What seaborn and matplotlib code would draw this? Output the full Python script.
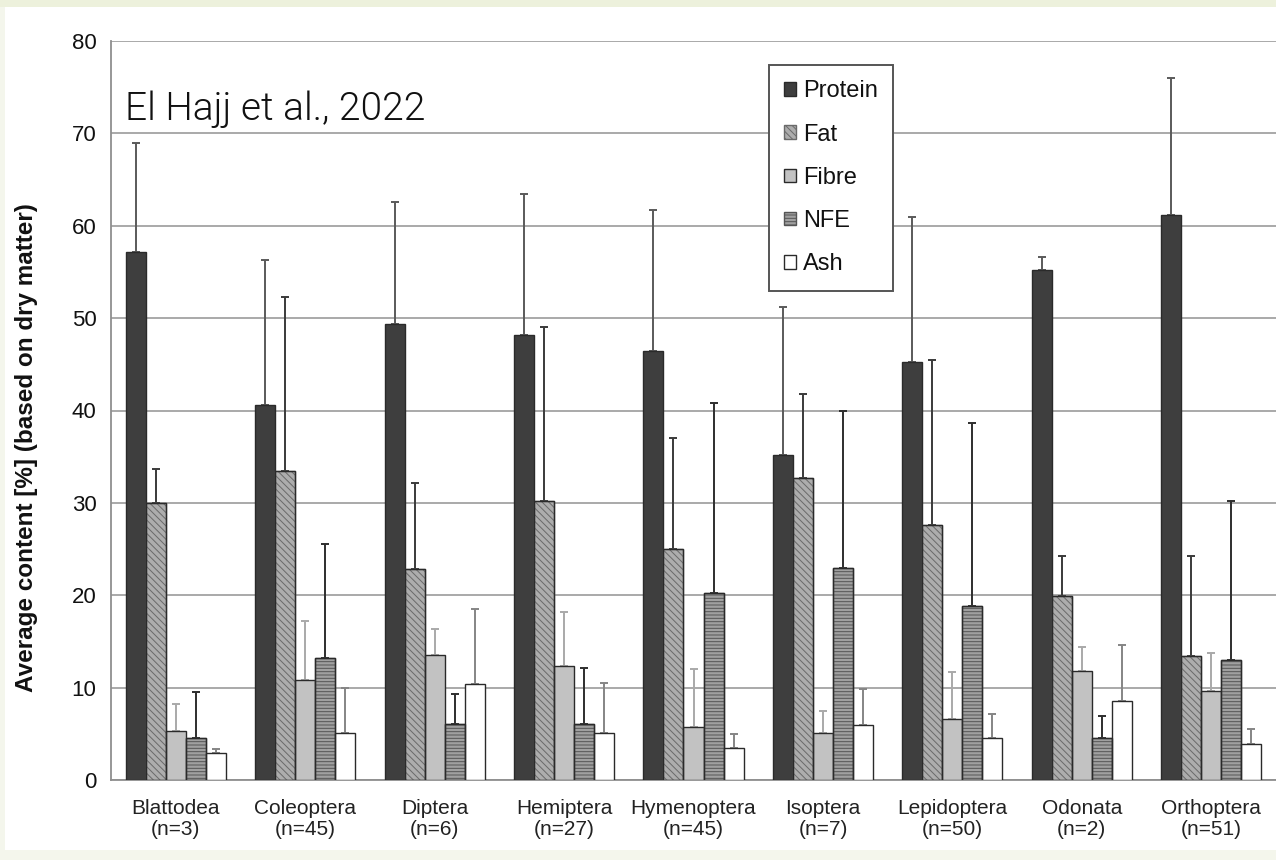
import numpy as np
import pandas as pd
import matplotlib
matplotlib.use("Agg")
import matplotlib.pyplot as plt
from matplotlib.patches import Rectangle
import seaborn as sns

# ---------------- data ----------------
orders = ["Blattodea", "Coleoptera", "Diptera", "Hemiptera", "Hymenoptera",
          "Isoptera", "Lepidoptera", "Odonata", "Orthoptera"]
n_counts = [3, 45, 6, 27, 45, 7, 50, 2, 51]
nutrients = ["Protein", "Fat", "Fibre", "NFE", "Ash"]

protein = [57.2, 40.6, 49.4, 48.2, 46.4, 35.2, 45.3, 55.2, 61.2]
fat     = [30.0, 33.4, 22.8, 30.2, 25.0, 32.7, 27.6, 19.9, 13.4]
fibre   = [5.3, 10.8, 13.5, 12.35, 5.7, 5.1, 6.6, 11.8, 9.6]
nfe     = [4.6, 13.2, 6.1, 6.1, 20.2, 22.9, 18.8, 4.6, 13.0]
ash     = [2.95, 5.1, 10.4, 5.1, 3.5, 5.9, 4.5, 8.5, 3.9]

protein_sd = [11.8, 15.7, 13.2, 15.2, 15.3, 16.0, 15.6, 1.4, 14.8]
fat_sd     = [3.7, 18.9, 9.3, 18.8, 12.0, 9.1, 17.9, 4.3, 10.9]
fibre_sd   = [2.9, 6.4, 2.9, 5.85, 6.3, 2.4, 5.1, 2.6, 4.1]
nfe_sd     = [4.9, 12.3, 3.25, 6.0, 20.6, 17.1, 19.8, 2.3, 17.2]
ash_sd     = [0.45, 4.85, 8.1, 5.4, 1.5, 4.0, 2.6, 6.1, 1.6]

y_ticks = [0, 10, 20, 30, 40, 50, 60, 70, 80]
y_label = "Average content [%] (based on dry matter)"
source_note = "El Hajj et al., 2022"

means = [protein, fat, fibre, nfe, ash]
sds = [protein_sd, fat_sd, fibre_sd, nfe_sd, ash_sd]

tick_labels = [f"{o}\n(n={n})" for o, n in zip(orders, n_counts)]
df = pd.DataFrame({
    "Order": tick_labels * len(nutrients),
    "Nutrient": np.repeat(nutrients, len(orders)),
    "Value": np.concatenate(means),
})

# ---------------- style ----------------
sns.set_style("white")
plt.rcParams["font.family"] = ["Liberation Sans", "DejaVu Sans"]
plt.rcParams["hatch.linewidth"] = 0.7

face_colors = {"Protein": "#3e3e3e", "Fat": "#adadad", "Fibre": "#c2c2c2",
               "NFE": "#a0a0a0", "Ash": "#ffffff"}
hatches = ["", "\\\\\\\\\\", "", "-----", ""]
hatch_edge = ["#2a2a2a", "#6a6a6a", "#2a2a2a", "#555555", "#2a2a2a"]
err_colors = ["#5a5a5a", "#3a3a3a", "#a9a9a9", "#2e2e2e", "#858585"]
grid_color = "#a3a3a3"
axis_color = "#8f8f8f"

W, H = 1276, 860
fig = plt.figure(figsize=(W / 100, H / 100), dpi=100)
fig.patch.set_facecolor("#f4f6ec")
fig.add_artist(Rectangle((0, 1 - 7 / H), 1, 7 / H, transform=fig.transFigure,
                         facecolor="#edf1dc", edgecolor="none", zorder=-20))
fig.add_artist(Rectangle((5 / W, 10 / H), 1, 1 - 17 / H, transform=fig.transFigure,
                         facecolor="white", edgecolor="none", zorder=-10))

ax_left, ax_right = 111, 1276
ax_top, ax_bottom = 41, 780
ax = fig.add_axes([ax_left / W, 1 - ax_bottom / H,
                   (ax_right - ax_left) / W, (ax_bottom - ax_top) / H])
ax.set_facecolor("none")

sns.barplot(data=df, x="Order", y="Value", hue="Nutrient", hue_order=nutrients,
            order=tick_labels, palette=face_colors, width=0.773, gap=0,
            errorbar=None, saturation=1, edgecolor="#2a2a2a", linewidth=1.0,
            legend=False, ax=ax, zorder=3)

bar_containers = [c for c in ax.containers]
for cont, h, hc in zip(bar_containers, hatches, hatch_edge):
    for bar in cont:
        if h:
            bar.set_hatch(h)
            bar.set_edgecolor(hc)
# dark outline over hatched bars
for cont, h in zip(bar_containers, hatches):
    if h:
        for bar in cont:
            ax.add_patch(Rectangle(bar.get_xy(), bar.get_width(), bar.get_height(),
                                   facecolor="none", edgecolor="#2a2a2a",
                                   linewidth=1.0, zorder=3.5))

# error bars (upper only)
for cont, m, s, ec in zip(bar_containers, means, sds, err_colors):
    xs = [b.get_x() + b.get_width() / 2 for b in cont]
    ax.errorbar(xs, m, yerr=[np.zeros(len(s)), s], fmt="none", ecolor=ec,
                elinewidth=1.4, capsize=2.6, capthick=1.4, zorder=2)

# axes formatting
ax.set_xlim(-0.5, len(orders) - 0.5)
ax.set_ylim(0, 80)
ax.set_yticks(y_ticks)
ax.yaxis.grid(True, color=grid_color, linewidth=1.3, zorder=0)
ax.set_axisbelow(True)
for side in ["top", "right"]:
    ax.spines[side].set_visible(False)
for side in ["left", "bottom"]:
    ax.spines[side].set_color(axis_color)
    ax.spines[side].set_linewidth(1.3)

ax.set_xticks(np.arange(-0.5, len(orders), 1.0), minor=True)
ax.tick_params(axis="x", which="major", length=0, pad=14, labelsize=15,
               labelcolor="#222222")
ax.tick_params(axis="x", which="minor", length=6, width=1.2, color=axis_color,
               direction="out")
ax.tick_params(axis="y", length=4.5, width=1.2, color=axis_color, pad=6,
               labelsize=16, labelcolor="#111111")
for lab in ax.get_xticklabels():
    lab.set_linespacing(1.12)

ax.set_xlabel("")
ax.set_ylabel(y_label, fontsize=17.5, fontweight="bold", color="#111111")
ax.yaxis.set_label_coords((38 - ax_left) / (ax_right - ax_left),
                          (ax_bottom - 448) / (ax_bottom - ax_top))

# legend
leg = ax.legend(bar_containers, nutrients, loc="upper left",
                bbox_to_anchor=(769 / W, 1 - 65 / H), bbox_transform=fig.transFigure,
                fontsize=17, frameon=True, fancybox=False, framealpha=1,
                handlelength=0.5, handleheight=0.5, handletextpad=0.3,
                labelspacing=0.9, borderpad=0.65, borderaxespad=0)
leg.get_frame().set_edgecolor("#555555")
leg.get_frame().set_linewidth(1.4)
for t in leg.get_texts():
    t.set_color("#111111")

# source note
fig.text(125 / W, 1 - 120 / H, source_note, fontsize=28, fontweight=300,
         family=["Roboto", "Open Sans", "DejaVu Sans"], color="#111111",
         ha="left", va="baseline")

fig.savefig("out.png", dpi=100)
